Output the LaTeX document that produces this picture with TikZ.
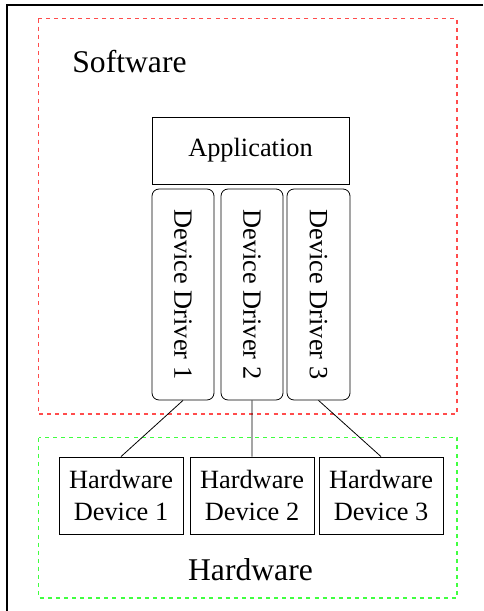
\documentclass[tikz,border=0pt]{standalone}
\usepackage{fontspec}
\setmainfont{Liberation Serif}
\usepackage{tikz}

\begin{document}
\begin{tikzpicture}[line width=0.45pt,
    box/.style={draw, inner sep=0pt, align=center, font=\fontsize{15}{18}\selectfont},
    drv/.style={box, rounded corners=4pt, rotate=-90, minimum width=4.22cm, minimum height=1.24cm},
    hw/.style={box, minimum width=2.48cm, minimum height=1.54cm},
    big/.style={inner sep=0pt, font=\fontsize{18}{21}\selectfont},
    zone/.style={line width=0.6pt, dash pattern=on 2.3pt off 2.3pt}]
    \useasboundingbox (0, 0) rectangle (9.66, -12.22);
    \draw[line width=0.8pt] (9.66, -0.1) -- (0.14, -0.1) -- (0.14, -12.22);

    \draw[zone, red!70] (0.77, -0.37) rectangle (9.14, -8.28);
    \draw[zone, green!75] (0.77, -8.75) rectangle (9.14, -11.96);

    \node[big, anchor=base west](sw) at (1.44, -1.46) {Software};
    \node[big, anchor=base](hwl) at (5.01, -11.6) {Hardware};

    \node[box, minimum width=3.94cm, minimum height=1.34cm](app) at (5.01, -3.01) {Application};

    \node[drv](d1) at (3.66, -5.89) {Device Driver 1};
    \node[drv](d2) at (5.04, -5.89) {Device Driver 2};
    \node[drv, minimum height=1.26cm](d3) at (6.37, -5.89) {Device Driver 3};

    \node[hw](h1) at (2.42, -9.91) {Hardware\\Device 1};
    \node[hw](h2) at (5.04, -9.91) {Hardware\\Device 2};
    \node[hw](h3) at (7.62, -9.91) {Hardware\\Device 3};

    \draw (d1.east) -- (h1.north)
          (d2.east) -- (h2.north)
          (d3.east) -- (h3.north);
\end{tikzpicture}
\end{document}
